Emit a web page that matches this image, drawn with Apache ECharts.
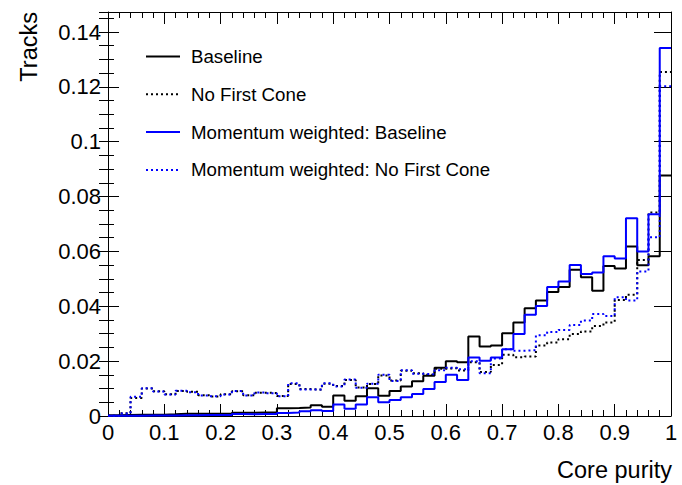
<!DOCTYPE html>
<html>
<head>
<meta charset="utf-8">
<script src="https://cdn.jsdelivr.net/npm/echarts@6/dist/echarts.min.js"></script>
<style>
  html, body { margin: 0; padding: 0; background: #ffffff; }
  #chart { width: 682px; height: 485px; }
</style>
</head>
<body>
<div id="chart"></div>
<script>
// Core purity histograms: 50 bins from 0 to 1
const purityLow = 0;
const purityHigh = 1;

const baseline = [
  0.0003, 0.0004, 0.0005, 0.0005, 0.0005, 0.0006, 0.0008, 0.0008, 0.0008, 0.0008,
  0.0009, 0.0012, 0.0012, 0.0013, 0.0013, 0.0028, 0.0029, 0.0031, 0.0039, 0.0034,
  0.0075, 0.0056, 0.0072, 0.0101, 0.0074, 0.0091, 0.0108, 0.0127, 0.0147, 0.0176,
  0.0200, 0.0196, 0.0290, 0.0253, 0.0257, 0.0302, 0.0341, 0.0393, 0.0421, 0.0452,
  0.0470, 0.0533, 0.0506, 0.0457, 0.0547, 0.0538, 0.0618, 0.0550, 0.0582, 0.0877
];

const noFirstCone = [
  0.0001, 0.0010, 0.0066, 0.0100, 0.0090, 0.0079, 0.0091, 0.0088, 0.0076, 0.0071,
  0.0079, 0.0090, 0.0076, 0.0085, 0.0084, 0.0073, 0.0117, 0.0098, 0.0096, 0.0118,
  0.0109, 0.0131, 0.0104, 0.0117, 0.0148, 0.0129, 0.0165, 0.0156, 0.0150, 0.0172,
  0.0174, 0.0166, 0.0196, 0.0160, 0.0186, 0.0223, 0.0214, 0.0217, 0.0257, 0.0268,
  0.0280, 0.0299, 0.0308, 0.0328, 0.0341, 0.0423, 0.0442, 0.0569, 0.0742, 0.1254
];

const mwBaseline = [
  0.0001, 0.0001, 0.0001, 0.0002, 0.0002, 0.0002, 0.0003, 0.0003, 0.0004, 0.0004,
  0.0004, 0.0007, 0.0006, 0.0007, 0.0007, 0.0011, 0.0013, 0.0017, 0.0021, 0.0018,
  0.0042, 0.0026, 0.0042, 0.0068, 0.0050, 0.0058, 0.0068, 0.0080, 0.0098, 0.0124,
  0.0150, 0.0131, 0.0213, 0.0201, 0.0213, 0.0243, 0.0299, 0.0369, 0.0401, 0.0470,
  0.0490, 0.0551, 0.0518, 0.0523, 0.0582, 0.0574, 0.0721, 0.0600, 0.0736, 0.1342
];

const mwNoFirstCone = [
  0.0001, 0.0009, 0.0070, 0.0101, 0.0089, 0.0078, 0.0092, 0.0087, 0.0075, 0.0072,
  0.0078, 0.0091, 0.0075, 0.0086, 0.0083, 0.0072, 0.0119, 0.0097, 0.0097, 0.0119,
  0.0108, 0.0133, 0.0103, 0.0118, 0.0150, 0.0128, 0.0167, 0.0154, 0.0152, 0.0167,
  0.0176, 0.0170, 0.0200, 0.0156, 0.0210, 0.0243, 0.0238, 0.0240, 0.0294, 0.0306,
  0.0314, 0.0332, 0.0348, 0.0372, 0.0365, 0.0433, 0.0421, 0.0527, 0.0652, 0.1202
];

const seriesNames = [
  'Baseline',
  'No First Cone',
  'Momentum weighted: Baseline',
  'Momentum weighted: No First Cone'
];

const xTickStep = 0.1;
const yTickStep = 0.02;
const yMinorStep = 0.005;
const yTop = 0.1473;

const FONT = "'Liberation Sans', Arial, Helvetica, sans-serif";
const INK = '#000000';
const BLUE = '#0000ff';

// Step outline of a histogram: left edge of every bin, plus the closing right edge
function histogramOutline(values) {
  const width = (purityHigh - purityLow) / values.length;
  const pts = values.map((v, i) => [purityLow + i * width, v]);
  pts.push([purityHigh, values[values.length - 1]]);
  return pts;
}

function fmtX(v) {
  const r = Math.round(v * 10) / 10;
  if (Math.abs(v - r) > 1e-9) return '';
  return String(parseFloat(r.toFixed(1)));
}

function fmtY(v) {
  const k = v / yTickStep;
  if (Math.abs(k - Math.round(k)) > 1e-6) return '';
  return String(parseFloat(v.toFixed(2)));
}

const frameLine = { show: true, onZero: false, lineStyle: { color: INK, width: 1 } };

function xAxisDef(position, withLabels) {
  return {
    type: 'value', position: position, min: purityLow, max: purityHigh, interval: xTickStep,
    axisLine: frameLine,
    axisTick: { show: true, inside: true, length: 12, lineStyle: { color: INK } },
    minorTick: { show: true, splitNumber: 5, length: 6, lineStyle: { color: INK } },
    splitLine: { show: false },
    axisLabel: withLabels ? {
      show: true, formatter: fmtX, margin: 5, color: INK,
      fontFamily: FONT, fontSize: 22, showMinLabel: true, showMaxLabel: true
    } : { show: false }
  };
}

function yAxisDef(position, step, tickLen, withLabels, withLine) {
  return {
    type: 'value', position: position, min: 0, max: yTop, interval: step,
    axisLine: withLine ? frameLine : { show: false },
    axisTick: { show: true, inside: true, length: tickLen, lineStyle: { color: INK } },
    splitLine: { show: false },
    axisLabel: withLabels ? {
      show: true, formatter: fmtY, margin: 7, color: INK,
      fontFamily: FONT, fontSize: 22, showMaxLabel: false
    } : { show: false }
  };
}

function histSeries(name, values, color, dotted) {
  return {
    name: name, type: 'line', step: 'end', xAxisIndex: 0, yAxisIndex: 0,
    data: histogramOutline(values), symbol: 'none', showSymbol: false,
    clip: true, animation: false,
    lineStyle: { color: color, width: 2, type: dotted ? [2, 3] : 'solid' },
    itemStyle: { color: color },
    emphasis: { disabled: true }
  };
}

const chart = echarts.init(document.getElementById('chart'), null, { renderer: 'svg' });

chart.setOption({
  backgroundColor: '#ffffff',
  animation: false,
  grid: { left: 108, right: 11, top: 12, bottom: 69, containLabel: false },
  xAxis: [xAxisDef('bottom', true), xAxisDef('top', false)],
  yAxis: [
    yAxisDef('left', yTickStep, 11, true, true),
    yAxisDef('left', yMinorStep, 6, false, false),
    yAxisDef('right', yTickStep, 17, false, true),
    yAxisDef('right', yMinorStep, 9, false, false)
  ],
  legend: {
    orient: 'vertical', left: 145, top: 47, padding: 0,
    itemWidth: 34, itemHeight: 14, itemGap: 18.8,
    selectedMode: false,
    itemStyle: { opacity: 0, borderWidth: 0 },
    textStyle: { fontFamily: FONT, fontSize: 18.7, color: INK, padding: [0, 0, 0, 6] },
    data: seriesNames
  },
  series: [
    histSeries(seriesNames[0], baseline, INK, false),
    histSeries(seriesNames[1], noFirstCone, INK, true),
    histSeries(seriesNames[2], mwBaseline, BLUE, false),
    histSeries(seriesNames[3], mwNoFirstCone, BLUE, true)
  ],
  graphic: [
    {
      type: 'text', x: 29, y: 12, rotation: Math.PI / 2,
      style: { text: 'Tracks', fontFamily: FONT, fontSize: 23.5, fill: INK,
               align: 'right', verticalAlign: 'middle' }
    },
    {
      type: 'text', x: 672, y: 470,
      style: { text: 'Core purity', fontFamily: FONT, fontSize: 23.5, fill: INK,
               align: 'right', verticalAlign: 'middle' }
    }
  ]
});
</script>
</body>
</html>
